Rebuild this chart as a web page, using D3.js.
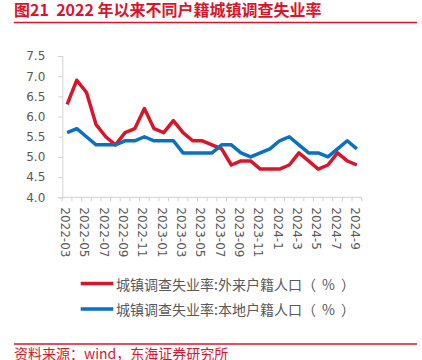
<!DOCTYPE html>
<html><head><meta charset="utf-8">
<script src="https://cdn.jsdelivr.net/npm/d3@7"></script>
<style>html,body{margin:0;padding:0;background:#fff;}svg{display:block;}</style>
</head><body>
<script>
const title = "图21  2022 年以来不同户籍城镇调查失业率";
const source = "资料来源：wind，东海证券研究所";
const months = ["2022-03","2022-04","2022-05","2022-06","2022-07","2022-08","2022-09","2022-10","2022-11","2022-12",
  "2023-01","2023-02","2023-03","2023-04","2023-05","2023-06","2023-07","2023-08","2023-09","2023-10","2023-11","2023-12",
  "2024-1","2024-2","2024-3","2024-4","2024-5","2024-6","2024-7","2024-8","2024-9"];
const tickLabels = ["2022-03","2022-05","2022-07","2022-09","2022-11","2023-01","2023-03","2023-05","2023-07","2023-09","2023-11","2024-1","2024-3","2024-5","2024-7","2024-9"];
const yTicks = [4.0,4.5,5.0,5.5,6.0,6.5,7.0,7.5];
const seriesNames = ["城镇调查失业率:外来户籍人口（ % ）","城镇调查失业率:本地户籍人口（ % ）"];
const migrant = [6.3,6.9,6.6,5.8,5.5,5.3,5.6,5.7,6.2,5.7,5.6,5.9,5.6,5.4,5.4,5.3,5.2,4.8,4.9,4.9,4.7,4.7,4.7,4.8,5.1,4.9,4.7,4.8,5.1,4.9,4.8];
const local = [5.6,5.7,5.5,5.3,5.3,5.3,5.4,5.4,5.5,5.4,5.4,5.4,5.1,5.1,5.1,5.1,5.3,5.3,5.1,5.0,5.1,5.2,5.4,5.5,5.3,5.1,5.1,5.0,5.2,5.4,5.2];

const W = 422, H = 360;
const RED = "#d9152b", BLUE = "#0a70c2", TXT = "#595959", AX = "#d0d0d0";
const svg = d3.select("body").append("svg").attr("width", W).attr("height", H);

svg.append("text").attr("x", 14).attr("y", 16).attr("fill", RED)
  .attr("font-family", "'Noto Sans CJK SC', sans-serif").attr("font-weight", "bold").attr("font-size", 16)
  .attr("xml:space", "preserve").text(title);
svg.append("line").attr("x1", 14).attr("x2", 417).attr("y1", 22.5).attr("y2", 22.5).attr("stroke", RED).attr("stroke-width", 1.5);

const x = d3.scaleBand().domain(months).range([62.3, 361.7]).paddingInner(0).paddingOuter(0);
const y = d3.scaleLinear().domain([4, 7.5]).range([197.3, 56]);
const cx = d => x(d) + x.bandwidth() / 2;

// y axis
const ya = svg.append("g").attr("transform", "translate(62.3,0)")
  .call(d3.axisLeft(y).tickValues(yTicks).tickFormat(d3.format(".1f")).tickSize(4).tickPadding(13));
ya.select(".domain").attr("stroke", AX);
ya.selectAll(".tick line").attr("stroke", AX);
ya.selectAll("text").attr("fill", TXT).attr("font-family", "'DejaVu Sans', sans-serif").attr("font-size", 12);

// x axis
const xa = svg.append("g").attr("transform", "translate(0,197.3)");
xa.append("line").attr("x1", 62.3).attr("x2", 361.7).attr("stroke", AX);
const bounds = months.map(m => x(m)).concat([x(months[months.length - 1]) + x.bandwidth()]);
xa.selectAll("line.t").data(bounds).enter().append("line").attr("class", "t")
  .attr("x1", d => d).attr("x2", d => d).attr("y1", 0).attr("y2", 4).attr("stroke", AX);
xa.selectAll("text").data(tickLabels).enter().append("text")
  .attr("transform", d => `translate(${cx(d) - 2},10) rotate(90)`)
  .attr("dominant-baseline", "central").attr("text-anchor", "start")
  .attr("fill", TXT).attr("font-family", "'DejaVu Sans', sans-serif").attr("font-size", 12)
  .text(d => d);

// lines
const line = d3.line().x((d, i) => cx(months[i])).y(d => y(d));
[[migrant, RED], [local, BLUE]].forEach(([data, c]) => {
  svg.append("path").datum(data).attr("d", line).attr("fill", "none").attr("stroke", c)
    .attr("stroke-width", 3.5).attr("stroke-linejoin", "round");
});

// legend
[[RED, 283.5], [BLUE, 309]].forEach(([c, ly], i) => {
  svg.append("line").attr("x1", 80.7).attr("x2", 113.3).attr("y1", ly).attr("y2", ly).attr("stroke", c).attr("stroke-width", 3.5);
  svg.append("text").attr("x", 116).attr("y", ly).attr("dominant-baseline", "central")
    .attr("fill", TXT).attr("font-family", "'Noto Sans CJK SC', sans-serif").attr("font-size", 14)
    .attr("word-spacing", 3).attr("xml:space", "preserve")
    .text(seriesNames[i]);
});

svg.append("line").attr("x1", 14).attr("x2", 417).attr("y1", 344).attr("y2", 344).attr("stroke", RED).attr("stroke-width", 1.5);
svg.append("text").attr("x", 14).attr("y", 359).attr("fill", RED)
  .attr("font-family", "'Noto Sans CJK SC', sans-serif").attr("font-size", 14).text(source);
</script>
</body></html>
